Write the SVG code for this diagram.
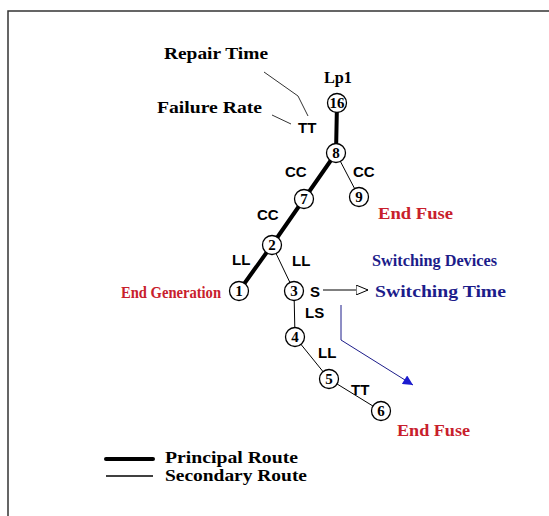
<svg xmlns="http://www.w3.org/2000/svg" width="549" height="516" viewBox="0 0 549 516">
  <defs>
    <style>
      .frame { stroke: #333; stroke-width: 1.5; fill: none; }
      .principal { stroke: #000; stroke-width: 4; stroke-linecap: round; fill: none; }
      .secondary { stroke: #000; stroke-width: 1; fill: none; }
      .leader { stroke: #333; stroke-width: 1; fill: none; }
      .node circle { fill: #fff; stroke: #000; stroke-width: 1.3; }
      .node text { font-family: "Liberation Serif", serif; font-weight: bold; font-size: 15px; text-anchor: middle; fill: #000; }
      .note { font-family: "Liberation Serif", serif; font-weight: bold; font-size: 17px; fill: #000; }
      .legend-text { font-family: "Liberation Serif", serif; font-weight: bold; font-size: 16px; fill: #000; }
      .red { font-family: "Liberation Serif", serif; font-weight: bold; font-size: 17px; fill: #c8202c; }
      .blue { font-family: "Liberation Serif", serif; font-weight: bold; fill: #1c1c8a; }
      .code { font-family: "Liberation Sans", sans-serif; font-weight: bold; font-size: 15px; fill: #000; }
    </style>
    <marker id="hollow" viewBox="0 0 12 10" refX="12" refY="5" markerWidth="12" markerHeight="10" markerUnits="userSpaceOnUse" orient="auto">
      <path d="M0,0 L12,5 L0,10 Z" fill="#fff" stroke="#000" stroke-width="1"/>
    </marker>
    <marker id="solid" viewBox="0 0 10 10" refX="10" refY="5" markerWidth="11" markerHeight="10" markerUnits="userSpaceOnUse" orient="auto">
      <path d="M0,0 L10,5 L0,10 Z" fill="#1c1cd0"/>
    </marker>
  </defs>

  <rect width="549" height="516" fill="#fff"/>
  <!-- page frame (top and left edges) -->
  <path class="frame" d="M8,516 V11 H549"/>

  <!-- connectors -->
  <g id="connectors">
    <line class="principal" x1="337" y1="103" x2="336" y2="153"/>
    <line class="principal" x1="336" y1="153" x2="304" y2="199"/>
    <line class="principal" x1="304" y1="199" x2="272" y2="245"/>
    <line class="principal" x1="272" y1="245" x2="239" y2="291"/>
    <line class="secondary" x1="336" y1="153" x2="359" y2="197"/>
    <line class="secondary" x1="272" y1="245" x2="294" y2="291"/>
    <line class="secondary" x1="294" y1="291" x2="295" y2="337"/>
    <line class="secondary" x1="295" y1="337" x2="329" y2="379"/>
    <line class="secondary" x1="329" y1="379" x2="381" y2="411"/>
    <!-- annotation leaders -->
    <polyline class="leader" points="264,72 298,96 308,116"/>
    <line class="leader" x1="272" y1="115" x2="291" y2="124"/>
    <!-- switching arrows -->
    <line x1="323" y1="290" x2="368" y2="290" stroke="#000" stroke-width="1" marker-end="url(#hollow)"/>
    <polyline points="341,305 341,340 413,385" fill="none" stroke="#1c1c8a" stroke-width="1" marker-end="url(#solid)"/>
  </g>

  <!-- nodes -->
  <g id="n16" class="node"><circle cx="337" cy="103" r="9.5"/><text x="337" y="108">16</text></g>
  <g id="n8" class="node"><circle cx="336" cy="153" r="9.5"/><text x="336" y="158">8</text></g>
  <g id="n7" class="node"><circle cx="304" cy="199" r="9.5"/><text x="304" y="204">7</text></g>
  <g id="n9" class="node"><circle cx="359" cy="197" r="9.5"/><text x="359" y="202">9</text></g>
  <g id="n2" class="node"><circle cx="272" cy="245" r="9.5"/><text x="272" y="250">2</text></g>
  <g id="n1" class="node"><circle cx="239" cy="291" r="9.5"/><text x="239" y="296">1</text></g>
  <g id="n3" class="node"><circle cx="294" cy="291" r="9.5"/><text x="294" y="296">3</text></g>
  <g id="n4" class="node"><circle cx="295" cy="337" r="9.5"/><text x="295" y="342">4</text></g>
  <g id="n5" class="node"><circle cx="329" cy="379" r="9.5"/><text x="329" y="384">5</text></g>
  <g id="n6" class="node"><circle cx="381" cy="411" r="9.5"/><text x="381" y="416">6</text></g>

  <!-- annotations -->
  <g id="labels">
    <text class="note" x="164" y="59" textLength="104" lengthAdjust="spacingAndGlyphs">Repair Time</text>
    <text class="note" x="157" y="113" textLength="105" lengthAdjust="spacingAndGlyphs">Failure Rate</text>
    <text class="note" x="324" y="83" textLength="28" lengthAdjust="spacingAndGlyphs">Lp1</text>

    <text class="code" x="298" y="133">TT</text>
    <text class="code" x="285" y="177">CC</text>
    <text class="code" x="353" y="177">CC</text>
    <text class="code" x="257" y="220">CC</text>
    <text class="code" x="232" y="265">LL</text>
    <text class="code" x="292" y="266">LL</text>
    <text class="code" x="310" y="297">S</text>
    <text class="code" x="305" y="318">LS</text>
    <text class="code" x="318" y="358">LL</text>
    <text class="code" x="351" y="395">TT</text>

    <text class="red" x="121" y="298" font-size="15.5" textLength="100" lengthAdjust="spacingAndGlyphs">End Generation</text>
    <text class="red" x="378" y="219" textLength="75" lengthAdjust="spacingAndGlyphs">End Fuse</text>
    <text class="red" x="397" y="436" textLength="73" lengthAdjust="spacingAndGlyphs">End Fuse</text>

    <text class="blue" x="372" y="266" font-size="16" textLength="125" lengthAdjust="spacingAndGlyphs">Switching Devices</text>
    <text class="blue" x="375" y="297" font-size="17" textLength="131" lengthAdjust="spacingAndGlyphs">Switching Time</text>
  </g>

  <!-- legend -->
  <g id="legend">
    <line class="principal" x1="106" y1="459" x2="153" y2="459" stroke-linecap="butt"/>
    <text class="legend-text" x="165" y="463" textLength="133" lengthAdjust="spacingAndGlyphs">Principal Route</text>
    <line x1="106" y1="476" x2="153" y2="476" stroke="#000" stroke-width="1.5"/>
    <text class="legend-text" x="165" y="481" textLength="142" lengthAdjust="spacingAndGlyphs">Secondary Route</text>
  </g>
</svg>
